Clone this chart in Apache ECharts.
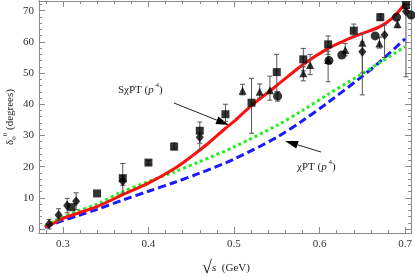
<!DOCTYPE html>
<html><head><meta charset="utf-8">
<script src="https://cdn.jsdelivr.net/npm/echarts@6/dist/echarts.min.js"></script>
<style>html,body{margin:0;padding:0;background:#fff}#c{width:415px;height:277px}</style>
</head><body><div id="c"></div>
<script>
// ---- tick labels / positions ----
const xMajorTicks = [0.3, 0.4, 0.5, 0.6, 0.7];
const xMinorTicks = [0.28, 0.32, 0.34, 0.36, 0.38, 0.42, 0.44, 0.46, 0.48, 0.52, 0.54, 0.56, 0.58, 0.62, 0.64, 0.66, 0.68];
const yMajorTicks = [0, 10, 20, 30, 40, 50, 60, 70];
const yMinorTicks = [2, 4, 6, 8, 12, 14, 16, 18, 22, 24, 26, 28, 32, 34, 36, 38, 42, 44, 46, 48, 52, 54, 56, 58, 62, 64, 66, 68, 72];

// ---- theory curves (sqrt(s) in GeV, phase in degrees) ----
const sChPTx = [0.279, 0.29, 0.30, 0.32, 0.34, 0.37, 0.40, 0.43, 0.45, 0.47, 0.49, 0.50, 0.52, 0.55, 0.58, 0.61, 0.63, 0.65, 0.67, 0.685, 0.70];
const sChPTy = [0.7, 2.0, 3.4, 5.3, 7.2, 11.0, 14.7, 19.3, 23.2, 27.5, 32.3, 34.5, 39.5, 46.0, 52.6, 57.9, 60.5, 62.7, 64.8, 67.6, 72.3];
const ggX = [0.279, 0.29, 0.30, 0.32, 0.34, 0.37, 0.40, 0.43, 0.46, 0.50, 0.55, 0.58, 0.61, 0.645, 0.67, 0.70];
const ggY = [1.0, 2.6, 3.9, 6.0, 8.0, 12.0, 15.2, 18.3, 21.6, 26.3, 33.2, 38.0, 43.2, 49.0, 53.3, 58.5];
const chPTx = [0.279, 0.29, 0.30, 0.32, 0.34, 0.37, 0.40, 0.43, 0.46, 0.50, 0.55, 0.58, 0.61, 0.645, 0.67, 0.70];
const chPTy = [0.5, 1.7, 2.7, 4.5, 6.3, 9.3, 12.1, 14.9, 17.9, 22.4, 29.4, 34.7, 40.6, 47.9, 53.5, 61.0];

// ---- experimental points: [sqrt(s), delta, low, high] ----
const squares = [
  [0.310, 7.0, 7.0, 7.0], [0.340, 11.4, 11.4, 11.4], [0.370, 16.3, 11.5, 21.0],
  [0.400, 21.3, 20.7, 21.9], [0.430, 26.4, 25.6, 27.6], [0.460, 31.5, 25.3, 34.3],
  [0.490, 36.8, 34.5, 40.0], [0.5205, 40.5, 30.7, 48.3], [0.550, 50.3, 44.0, 56.0],
  [0.581, 54.4, 50.7, 57.9], [0.610, 59.2, 56.0, 61.9], [0.640, 63.6, 62.2, 65.7],
  [0.671, 67.9, 67.0, 69.0], [0.701, 71.8, 71.8, 71.8]
];
const triangles = [
  [0.510, 44.3, 43.0, 46.4], [0.530, 44.0, 42.0, 46.5], [0.542, 44.5, 41.3, 49.0],
  [0.581, 49.9, 47.5, 52.0], [0.589, 52.6, 49.5, 56.0], [0.610, 54.2, 47.2, 57.0],
  [0.630, 57.4, 55.5, 59.5], [0.650, 59.7, 50.0, 62.7], [0.670, 59.5, 58.0, 61.5],
  [0.691, 65.7, 64.5, 67.0]
];
const circles = [
  [0.551, 42.6, 41.0, 44.0], [0.611, 54.0, 54.0, 54.0], [0.626, 55.8, 55.8, 55.8],
  [0.665, 61.9, 61.9, 61.9], [0.690, 67.9, 67.9, 67.9], [0.707, 68.6, 68.6, 68.6]
];
const diamonds = [
  [0.284, 1.6, 0.0, 3.1], [0.295, 4.5, 2.5, 6.5], [0.305, 7.5, 5.2, 9.8],
  [0.3155, 8.9, 6.2, 11.6], [0.370, 15.3, 14.0, 17.0], [0.460, 29.4, 27.5, 31.0],
  [0.650, 56.8, 43.0, 60.0], [0.676, 62.2, 55.0, 65.4], [0.701, 69.7, 48.8, 72.0]
];

const zip = (a, b) => a.map((v, i) => [v, b[i]]);
const FRAME = '#8a8a8a';
const SERIF = '"Liberation Serif","DejaVu Serif",serif';
const XMIN = 0.2721, XMAX = 0.707, YMIN = -1.28, YMAX = 73.1;

function xAx(pos, ticks, len, labels) {
  return {
    type: 'value', position: pos, min: XMIN, max: XMAX,
    axisLine: { show: true, onZero: false, lineStyle: { color: FRAME, width: 1 } },
    axisTick: { show: true, inside: true, length: len, customValues: ticks, lineStyle: { color: FRAME } },
    axisLabel: labels ? { show: true, customValues: xMajorTicks, margin: 6, color: '#333', fontFamily: SERIF, fontSize: 11,
      formatter: v => v.toFixed(1) } : { show: false },
    splitLine: { show: false }
  };
}
function yAx(pos, ticks, len, labels) {
  return {
    type: 'value', position: pos, min: YMIN, max: YMAX,
    axisLine: { show: true, onZero: false, lineStyle: { color: FRAME, width: 1 } },
    axisTick: { show: true, inside: true, length: len, customValues: ticks, lineStyle: { color: FRAME } },
    axisLabel: labels ? { show: true, customValues: yMajorTicks, margin: 5, color: '#333', fontFamily: SERIF, fontSize: 11 } : { show: false },
    splitLine: { show: false }
  };
}

function errRender(params, api) {
  const x = api.value(0), lo = api.value(2), hi = api.value(3);
  if (hi - lo < 0.05) return null;
  const a = api.coord([x, lo]), b = api.coord([x, hi]);
  const st = { stroke: '#555', lineWidth: 1 };
  return { type: 'group', children: [
    { type: 'line', shape: { x1: a[0], y1: a[1], x2: b[0], y2: b[1] }, style: st },
    { type: 'line', shape: { x1: a[0] - 2.5, y1: a[1], x2: a[0] + 2.5, y2: a[1] }, style: st },
    { type: 'line', shape: { x1: b[0] - 2.5, y1: b[1], x2: b[0] + 2.5, y2: b[1] }, style: st }
  ]};
}

function arrow(x1, y1, x2, y2) {
  const dx = x2 - x1, dy = y2 - y1, L = Math.hypot(dx, dy);
  const ux = dx / L, uy = dy / L, hl = 13, hw = 4;
  const bx = x2 - ux * hl, by = y2 - uy * hl;
  return [
    { type: 'line', shape: { x1, y1, x2: bx, y2: by }, style: { stroke: '#222', lineWidth: 1 } },
    { type: 'polygon', shape: { points: [[x2, y2], [bx - uy * hw, by + ux * hw], [bx + uy * hw, by - ux * hw]] }, style: { fill: '#000' } }
  ];
}

const richLbl = {
  n: { fontFamily: SERIF, fontSize: 11, fill: '#222' },
  i: { fontFamily: SERIF, fontSize: 11, fontStyle: 'italic', fill: '#222' },
  sp: { fontFamily: SERIF, fontSize: 7, fill: '#222', verticalAlign: 'top', lineHeight: 16 }
};

const chart = echarts.init(document.getElementById('c'), null, { renderer: 'canvas' });
const scatterBase = { type: 'scatter', xAxisIndex: 0, yAxisIndex: 0, encode: { x: 0, y: 1 }, itemStyle: { color: '#000' }, z: 5, clip: true };
chart.setOption({
  animation: false,
  grid: { left: 39, right: 2, top: 1, bottom: 44, containLabel: false },
  xAxis: [xAx('bottom', xMajorTicks, 6, true), xAx('bottom', xMinorTicks, 3, false), xAx('top', xMajorTicks, 6, false), xAx('top', xMinorTicks, 3, false)],
  yAxis: [yAx('left', yMajorTicks, 6, true), yAx('left', yMinorTicks, 3, false), yAx('right', yMajorTicks, 6, false), yAx('right', yMinorTicks, 3, false)],
  series: [
    { type: 'line', data: zip(chPTx, chPTy), showSymbol: false, smooth: 0.3, clip: true,
      lineStyle: { color: '#1a1aff', width: 3, type: [8, 4] }, z: 2 },
    { type: 'line', data: zip(ggX, ggY), showSymbol: false, smooth: 0.3, clip: true,
      lineStyle: { color: '#22ee22', width: 3, type: [3, 3] }, z: 2 },
    { type: 'line', data: zip(sChPTx, sChPTy), showSymbol: false, smooth: 0.3, clip: true,
      lineStyle: { color: '#ff1010', width: 3 }, z: 3 },
    { type: 'custom', renderItem: errRender, data: squares.concat(triangles, circles, diamonds), encode: { x: 0, y: 1 }, clip: true, z: 4 },
    Object.assign({}, scatterBase, { data: squares, symbol: 'rect', symbolSize: 8 }),
    Object.assign({}, scatterBase, { data: triangles, symbol: 'triangle', symbolSize: 8 }),
    Object.assign({}, scatterBase, { data: circles, symbol: 'circle', symbolSize: 9 }),
    Object.assign({}, scatterBase, { data: diamonds, symbol: 'diamond', symbolSize: [8, 10] })
  ],
  graphic: [
    { type: 'text', x: 118, y: 90, style: { text: '{n|Sχ}{n|PT (}{i|p}{sp| 4}{n|)}', rich: richLbl, verticalAlign: 'middle' } },
    { type: 'text', x: 297, y: 167, style: { text: '{n|χPT (}{i|p}{sp| 4}{n|)}', rich: richLbl, verticalAlign: 'middle' } },
    ...arrow(174, 103, 229, 125),
    ...arrow(321, 152, 285, 141),
    { type: 'text', x: 10, y: 117, rotation: Math.PI / 2,
      style: { text: '{d|δ}{s|0}{p|0}{n| (degrees)}', align: 'center', verticalAlign: 'middle',
        rich: { d: { fontFamily: SERIF, fontSize: 11, fill: '#222' },
                s: { fontFamily: SERIF, fontSize: 7, fill: '#222', verticalAlign: 'bottom', lineHeight: 16 },
                p: { fontFamily: SERIF, fontSize: 7, fill: '#222', verticalAlign: 'top', lineHeight: 16 },
                n: { fontFamily: SERIF, fontSize: 11, fill: '#222' } } } },
    { type: 'text', x: 226, y: 268,
      style: { text: '{r|√}{s|s}{n|  (GeV)}', align: 'center', verticalAlign: 'middle',
        rich: { r: { fontFamily: SERIF, fontSize: 18, fill: '#222' },
                s: { fontFamily: SERIF, fontSize: 11, fontStyle: 'italic', fill: '#222' },
                n: { fontFamily: SERIF, fontSize: 11, fill: '#222' } } } }
  ]
});
</script>
</body></html>
